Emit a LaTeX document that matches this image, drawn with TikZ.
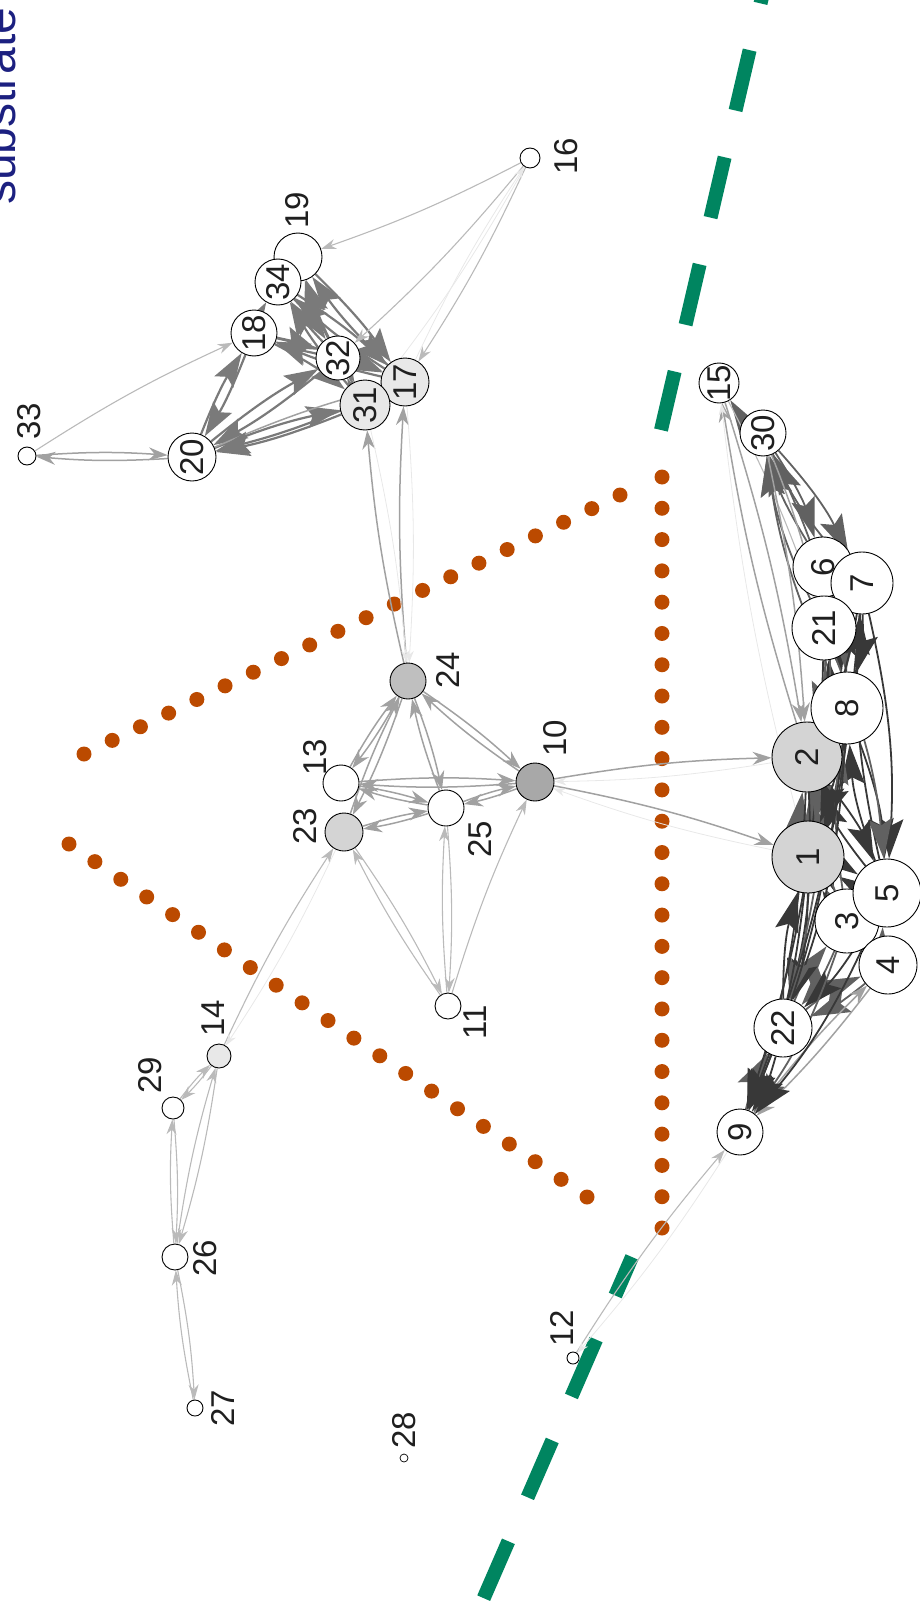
\documentclass[tikz,border=0pt]{standalone}
\usepackage{fontspec}
\setmainfont{Liberation Sans}
\usepackage{xcolor}
\usetikzlibrary{arrows.meta,calc}
\pgfdeclarelayer{bg}
\pgfsetlayers{bg,main}
\definecolor{dotorange}{RGB}{187,74,0}
\definecolor{cutgreen}{RGB}{0,133,96}
\definecolor{titlenavy}{RGB}{28,32,128}
\begin{document}
\begin{tikzpicture}[
x=1pt,y=-1pt,
vtx/.style={circle,draw,line width=0.9pt,fill=white,inner sep=0pt,rotate=90,text=black!88,font=\fontsize{33}{40}\selectfont},
vnum/.style={vtx,inner sep=-3pt},
lbl/.style={rotate=90,inner sep=0pt,text=black!88,font=\fontsize{33}{40}\selectfont},
faint/.style={draw=black!9,line width=0.8pt,bend left=4,-{Stealth[length=12pt,width=8pt]}},
soft/.style={draw=black!27,line width=1.1pt,bend left=4,-{Stealth[length=15pt,width=10pt]}},
mid/.style={draw=black!37,line width=1.5pt,bend left=4,-{Stealth[length=19pt,width=13pt]}},
firm/.style={draw=black!52,line width=2.2pt,bend left=5,-{Stealth[length=34pt,width=22pt,inset=6pt]}},
dark/.style={draw=black!62,line width=1.8pt,bend left=8,-{Stealth[length=40pt,width=24pt,inset=7pt]}},
deep/.style={draw=black!78,line width=1.8pt,bend left=8,-{Stealth[length=40pt,width=24pt,inset=7pt]}},
dot/.style={fill=dotorange},
cut/.style={draw=cutgreen,line width=14pt,dash pattern=on 62pt off 48pt}
]
\useasboundingbox (0,0) rectangle (920,1613);
\clip (0,0) rectangle (920,1613);

\node[rotate=90,anchor=base west,inner sep=0pt,text=titlenavy,font=\fontsize{48}{56}\selectfont] (title) at (15,205) {substrate};

\node[vtx,minimum size=48pt] (n19) at (298,257) {};
\node[vnum,minimum size=46pt] (n34) at (278,282) {34};
\node[vnum,minimum size=46pt] (n18) at (254,333) {18};
\node[vnum,minimum size=44pt] (n32) at (338,358) {32};
\node[vnum,minimum size=48pt,fill=black!9] (n17) at (405,382) {17};
\node[vnum,minimum size=50pt,fill=black!9] (n31) at (365,405) {31};
\node[vnum,minimum size=48pt] (n20) at (192,457) {20};
\node[vtx,minimum size=18pt] (n33) at (27,456) {};
\node[vtx,minimum size=20pt] (n16) at (530,158) {};
\node[vtx,minimum size=36pt,fill=black!25] (n24) at (408,681) {};
\node[vtx,minimum size=36pt] (n13) at (341,783) {};
\node[vtx,minimum size=38pt,fill=black!17] (n23) at (344,832) {};
\node[vtx,minimum size=36pt] (n25) at (446,808) {};
\node[vtx,minimum size=38pt,fill=black!34] (n10) at (535,782) {};
\node[vtx,minimum size=26pt] (n11) at (448,1006) {};
\node[vtx,minimum size=24pt,fill=black!9] (n14) at (219,1056) {};
\node[vtx,minimum size=22pt] (n29) at (173,1108) {};
\node[vtx,minimum size=26pt] (n26) at (175,1257) {};
\node[vtx,minimum size=16pt] (n27) at (195,1408) {};
\node[vtx,minimum size=8pt,line width=0.7pt] (n28) at (404,1458) {};
\node[vtx,minimum size=12pt] (n12) at (573,1358) {};
\node[vnum,minimum size=46pt] (n9) at (740,1132) {9};
\node[vnum,minimum size=58pt] (n22) at (783,1028) {22};
\node[vnum,minimum size=72pt,fill=black!17] (n1) at (808,857) {1};
\node[vnum,minimum size=64pt] (n3) at (847,921) {3};
\node[vnum,minimum size=58pt] (n4) at (888,965) {4};
\node[vnum,minimum size=68pt] (n5) at (887,893) {5};
\node[vnum,minimum size=70pt,fill=black!17] (n2) at (807,757) {2};
\node[vnum,minimum size=72pt] (n8) at (847,708) {8};
\node[vnum,minimum size=60pt] (n6) at (823,567) {6};
\node[vnum,minimum size=62pt] (n7) at (862,583) {7};
\node[vnum,minimum size=64pt] (n21) at (824,628) {21};
\node[vnum,minimum size=46pt] (n30) at (763,433) {30};
\node[vnum,minimum size=40pt] (n15) at (719,383) {15};

\node[lbl] (t16) at (566,156) {16};
\node[lbl] (t19) at (297,210) {19};
\node[lbl] (t33) at (29,421) {33};
\node[lbl] (t24) at (448,670) {24};
\node[lbl] (t13) at (315,757) {13};
\node[lbl] (t10) at (555,738) {10};
\node[lbl] (t25) at (480,839) {25};
\node[lbl] (t23) at (305,826) {23};
\node[lbl] (t11) at (475,1022) {11};
\node[lbl] (t14) at (213,1018) {14};
\node[lbl] (t29) at (150,1075) {29};
\node[lbl] (t26) at (205,1258) {26};
\node[lbl] (t27) at (223,1408) {27};
\node[lbl] (t12) at (562,1328) {12};
\node[lbl] (t28) at (404,1430) {28};

\begin{pgfonlayer}{bg}
\draw[cut] (774.6,-57) -- (661,430);
\draw[cut,dash phase=20pt] (632,1257) -- (472,1625);
\foreach \i in {0,...,24} \fill[dot] ($(662,477)!\i/24!(662,1228)$) circle (7.5pt);
\foreach \i in {0,...,19} \fill[dot] ($(620,495)!\i/19!(84,754)$) circle (7.5pt);
\foreach \i in {0,...,20} \fill[dot] ($(69,844)!\i/20!(587,1197)$) circle (7.5pt);

\draw[firm] (n20) to (n18);
\draw[firm] (n18) to (n20);
\draw[firm] (n20) to (n31);
\draw[firm] (n31) to (n20);
\draw[firm] (n20) to (n32);
\draw[firm] (n32) to (n20);
\draw[mid] (n20) to (n17);
\draw[firm] (n17) to (n20);
\draw[firm] (n18) to (n32);
\draw[firm] (n32) to (n18);
\draw[firm] (n18) to (n17);
\draw[firm] (n17) to (n18);
\draw[firm] (n18) to (n31);
\draw[firm] (n18) to (n34);
\draw[firm] (n34) to (n17);
\draw[firm] (n17) to (n34);
\draw[firm] (n34) to (n32);
\draw[firm] (n32) to (n34);
\draw[firm] (n31) to (n34);
\draw[firm] (n19) to (n17);
\draw[firm] (n17) to (n19);
\draw[firm] (n32) to (n19);
\draw[firm] (n31) to (n19);
\draw[firm] (n31) to (n17);
\draw[firm] (n17) to (n31);
\draw[firm] (n32) to (n17);
\draw[firm] (n31) to (n32);
\draw[firm] (n32) to (n31);
\draw[soft] (n16) to (n19);
\draw[soft] (n16) to (n32);
\draw[soft] (n16) to (n17);
\draw[faint] (n16) to (n31);
\draw[faint] (n17) to (n16);
\draw[mid] (n33) to (n20);
\draw[mid] (n20) to (n33);
\draw[soft] (n33) to (n18);
\draw[mid] (n24) to (n31);
\draw[mid] (n24) to (n17);
\draw[faint] (n17) to (n24);
\draw[faint] (n31) to (n24);

\draw[mid] (n24) to (n13);
\draw[mid] (n13) to (n24);
\draw[mid] (n24) to (n23);
\draw[mid] (n23) to (n24);
\draw[mid] (n24) to (n25);
\draw[mid] (n25) to (n24);
\draw[mid] (n24) to (n10);
\draw[mid] (n10) to (n24);
\draw[mid] (n13) to (n10);
\draw[mid] (n10) to (n13);
\draw[mid] (n13) to (n25);
\draw[mid] (n25) to (n13);
\draw[mid] (n23) to (n25);
\draw[mid] (n25) to (n23);
\draw[mid] (n25) to (n10);
\draw[mid] (n10) to (n25);
\draw[soft] (n11) to (n23);
\draw[soft] (n23) to (n11);
\draw[soft] (n11) to (n25);
\draw[soft] (n25) to (n11);
\draw[soft] (n11) to (n10);
\draw[soft] (n14) to (n23);
\draw[faint] (n23) to (n14);
\draw[mid] (n10) to (n2);
\draw[mid] (n10) to (n1);
\draw[faint] (n2) to (n10);
\draw[faint] (n1) to (n10);
\draw[soft] (n12) to (n9);
\draw[faint] (n9) to (n12);

\draw[soft] (n14) to (n29);
\draw[soft] (n29) to (n14);
\draw[soft] (n14) to (n26);
\draw[soft] (n26) to (n14);
\draw[soft] (n29) to (n26);
\draw[soft] (n26) to (n29);
\draw[soft] (n26) to (n27);
\draw[soft] (n27) to (n26);

\draw[dark] (n30) to (n15);
\draw[mid] (n2) to (n15);
\draw[mid] (n15) to (n2);
\draw[faint] (n1) to (n15);
\draw[soft] (n15) to (n21);
\draw[dark] (n6) to (n30);
\draw[dark] (n7) to (n30);
\draw[dark] (n30) to (n6);
\draw[dark] (n30) to (n7);
\draw[mid] (n30) to (n21);
\draw[dark] (n30) to (n8);
\draw[dark] (n8) to (n30);
\draw[dark] (n21) to (n30);
\draw[mid] (n30) to (n2);
\draw[deep] (n21) to (n8);
\draw[deep] (n8) to (n21);
\draw[deep] (n7) to (n8);
\draw[deep] (n8) to (n7);
\draw[dark] (n6) to (n8);
\draw[deep] (n7) to (n21);
\draw[deep] (n21) to (n7);
\draw[dark] (n6) to (n21);
\draw[deep] (n2) to (n8);
\draw[deep] (n8) to (n2);
\draw[deep] (n1) to (n8);
\draw[deep] (n8) to (n1);
\draw[dark] (n1) to (n2);
\draw[dark] (n2) to (n1);
\draw[deep] (n5) to (n8);
\draw[deep] (n8) to (n5);
\draw[deep] (n7) to (n5);
\draw[deep] (n5) to (n7);
\draw[dark] (n21) to (n5);
\draw[deep] (n2) to (n5);
\draw[deep] (n5) to (n2);
\draw[deep] (n1) to (n5);
\draw[deep] (n5) to (n1);
\draw[deep] (n3) to (n1);
\draw[deep] (n1) to (n3);
\draw[dark] (n3) to (n2);
\draw[dark] (n3) to (n8);
\draw[dark] (n4) to (n5);
\draw[dark] (n4) to (n1);
\draw[deep] (n1) to (n22);
\draw[deep] (n22) to (n1);
\draw[deep] (n2) to (n22);
\draw[dark] (n3) to (n22);
\draw[dark] (n22) to (n3);
\draw[dark] (n4) to (n22);
\draw[dark] (n22) to (n4);
\draw[deep] (n5) to (n22);
\draw[deep] (n8) to (n22);
\draw[dark] (n21) to (n22);
\draw[deep] (n1) to (n9);
\draw[deep] (n2) to (n9);
\draw[dark] (n3) to (n9);
\draw[mid] (n4) to (n9);
\draw[mid] (n9) to (n4);
\draw[deep] (n5) to (n9);
\draw[deep] (n22) to (n9);
\draw[dark] (n9) to (n22);
\draw[deep] (n8) to (n9);
\draw[deep] (n21) to (n9);
\draw[deep] (n7) to (n9);
\draw[dark] (n6) to (n2);
\draw[deep] (n7) to (n2);
\draw[dark] (n6) to (n1);
\draw[deep] (n7) to (n1);
\end{pgfonlayer}
\end{tikzpicture}
\end{document}
